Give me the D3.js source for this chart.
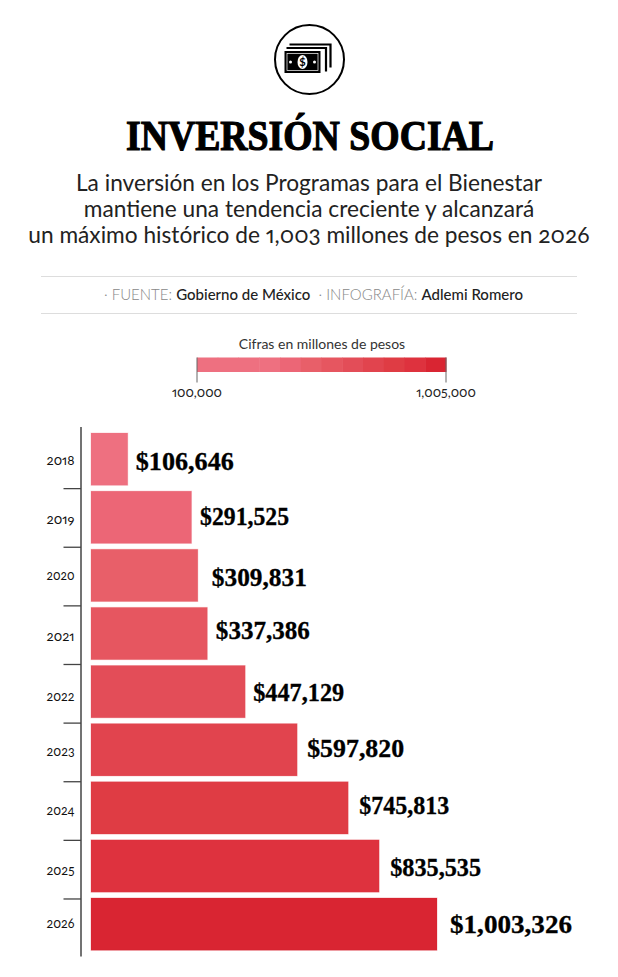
<!DOCTYPE html>
<html lang="es">
<head>
<meta charset="utf-8">
<script src="https://cdn.jsdelivr.net/npm/d3@7"></script>
<style>
  html, body { margin: 0; padding: 0; background: #fff; }
  svg { display: block; }
  .sans { font-family: "Lato", "Open Sans", sans-serif; font-feature-settings: "onum" 1, "pnum" 1; }
  .display { font-family: "Liberation Serif", serif; font-weight: 700; }
</style>
</head>
<body>
<script>
// Presupuesto anual de los Programas para el Bienestar (millones de pesos)
const years = [2018, 2019, 2020, 2021, 2022, 2023, 2024, 2025, 2026];
const amounts = [106646, 291525, 309831, 337386, 447129, 597820, 745813, 835535, 1003326];
const barColors = ["#ee7080", "#ec6676", "#e85f69", "#e65660", "#e34d58", "#e1444e", "#df3c44", "#de323e", "#d92532"];
const legendColors = ["#ee7080", "#ee7080", "#ee7080", "#ee7080", "#ec6676", "#e85f69", "#e65660", "#e34d58", "#e1444e", "#df3c44", "#de323e", "#d92532"];
const legendLabels = ["100,000", "1,005,000"];

// Ajustes finos de cada etiqueta respecto a su barra o franja
const valueGap = [8, 8.5, 14, 8.5, 8, 10, 11, 11, 13];
const valueDy = [2.8, -0.3, 2.6, -2.6, 1.3, -0.8, -1.9, 1.7, 0.5];
const valueWidth = [98, 89, 95, 94, 91, 97, 90, 91, 122];
const yearDy = [0.7, 1.1, -1.5, 0.9, 2.3, -1.3, -0.9, 0.5, -5.1];

const W = 618, H = 977;
const svg = d3.select("body").append("svg").attr("width", W).attr("height", H);

// Icono de billetes
const icon = svg.append("g").attr("transform", "translate(309.5,59.5)");
icon.append("circle").attr("r", 34.5)
  .attr("fill", "none").attr("stroke", "#000").attr("stroke-width", 2);
icon.append("path").attr("fill", "none").attr("stroke", "#000").attr("stroke-width", 2.2)
  .attr("d", "M-20,-15H21V8 M-23,-11.5H16.5V12");
icon.append("rect").attr("x", -25).attr("y", -8.5).attr("width", 36).attr("height", 22).attr("fill", "#000");
icon.append("rect").attr("x", -22.5).attr("y", -6).attr("width", 31).attr("height", 17)
  .attr("fill", "none").attr("stroke", "#fff").attr("stroke-width", 0.7);
icon.append("ellipse").attr("cx", -7).attr("cy", 2.5).attr("rx", 5).attr("ry", 7).attr("fill", "#fff");
icon.append("text").attr("x", -7).attr("y", 6.5).attr("text-anchor", "middle")
  .attr("font-family", "Lato").attr("font-size", 11).attr("font-weight", 700).text("$");
[-19, 5].forEach(x => icon.append("circle").attr("cx", x).attr("cy", 2.5).attr("r", 1.5).attr("fill", "#fff"));

// Titular
svg.append("text").attr("class", "display")
  .attr("x", 310).attr("y", 149.5).attr("text-anchor", "middle")
  .attr("font-size", 42).attr("stroke", "#000").attr("stroke-width", 1.2)
  .attr("textLength", 368).attr("lengthAdjust", "spacingAndGlyphs")
  .text("INVERSIÓN SOCIAL");

// Entradilla
const deck = [
  "La inversión en los Programas para el Bienestar",
  "mantiene una tendencia creciente y alcanzará",
  "un máximo histórico de 1,003 millones de pesos en 2026"
];
svg.selectAll(".deck").data(deck).join("text")
  .attr("class", "sans deck").attr("x", 309).attr("y", (d, i) => 190.5 + i * 26.3)
  .attr("text-anchor", "middle").attr("font-size", 22.7).attr("font-weight", 400)
  .attr("fill", "#222").text(d => d);

// Crédito entre filetes
svg.selectAll(".rule").data([276.5, 313.5]).join("line").attr("class", "rule")
  .attr("x1", 41).attr("x2", 577).attr("y1", d => d).attr("y2", d => d)
  .attr("stroke", "#ddd");
const credit = svg.append("text").attr("class", "sans").attr("x", 313.5).attr("y", 300)
  .attr("text-anchor", "middle").attr("font-size", 15);
[["· FUENTE: ", "#888", 300], ["Gobierno de México", "#222", 500], ["  · INFOGRAFÍA: ", "#888", 300], ["Adlemi Romero", "#222", 500]]
  .forEach(([t, c, w]) => credit.append("tspan").attr("fill", c).attr("font-weight", w).attr("xml:space", "preserve").text(t));

// Leyenda de color
const legendScale = d3.scaleBand().domain(d3.range(legendColors.length)).range([197, 446]).padding(0);
svg.append("text").attr("class", "sans").attr("x", 322).attr("y", 349).attr("text-anchor", "middle")
  .attr("font-size", 14).attr("font-weight", 400).attr("fill", "#333").text("Cifras en millones de pesos");
svg.selectAll(".cell").data(legendColors).join("rect").attr("class", "cell")
  .attr("x", (d, i) => legendScale(i)).attr("y", 357.5)
  .attr("width", legendScale.bandwidth() + 0.5).attr("height", 14.5).attr("fill", d => d);
const legendEnds = d3.scaleOrdinal().domain(legendLabels).range([197, 446]);
svg.selectAll(".lt").data(legendLabels).join("line").attr("class", "lt")
  .attr("x1", d => legendEnds(d)).attr("x2", d => legendEnds(d))
  .attr("y1", 357.5).attr("y2", 382.5).attr("stroke", "#666");
svg.selectAll(".ll").data(legendLabels).join("text").attr("class", "sans ll")
  .attr("x", d => legendEnds(d)).attr("y", 397).attr("text-anchor", "middle")
  .attr("font-size", 13.2).attr("fill", "#222").text(d => d);

// Barras
const x = d3.scaleLinear().domain([0, 1003326]).range([91, 437]);
const y = d3.scaleBand().domain(years).range([433, 950.3]).paddingInner(0.1).paddingOuter(0);
const rows = d3.zip(years, amounts, barColors, valueGap, valueDy, yearDy, valueWidth);

svg.selectAll(".bar").data(rows).join("rect").attr("class", "bar")
  .attr("x", x(0)).attr("y", d => y(d[0]))
  .attr("width", d => x(d[1]) - x(0)).attr("height", y.bandwidth())
  .attr("fill", d => d[2])
  .attr("stroke", d => d[2]).attr("stroke-opacity", 0.25).attr("stroke-width", 1);

// Eje vertical con marcas entre franjas
const yAxisBands = d3.scaleBand().domain(years).range([430, 957.6]);
const axisG = svg.append("g").attr("fill", "none").attr("stroke", "#444").attr("stroke-width", 1.3);
axisG.append("line").attr("x1", 81).attr("x2", 81).attr("y1", 427).attr("y2", 956.5).attr("stroke-width", 1.5);
axisG.selectAll("line.tick").data(years.slice(1)).join("line").attr("class", "tick")
  .attr("x1", 63.5).attr("x2", 81)
  .attr("y1", d => yAxisBands(d)).attr("y2", d => yAxisBands(d));

svg.selectAll(".year").data(rows).join("text").attr("class", "sans year")
  .attr("x", 60.5).attr("y", d => yAxisBands(d[0]) + yAxisBands.bandwidth() / 2 + 4.8 + d[5])
  .attr("text-anchor", "middle").attr("font-size", 14).attr("fill", "#111")
  .attr("textLength", 28).attr("lengthAdjust", "spacingAndGlyphs").text(d => d[0]);

svg.selectAll(".value").data(rows).join("text").attr("class", "display value")
  .attr("x", d => x(d[1]) + d[3]).attr("y", d => y(d[0]) + y.bandwidth() / 2 + 8 + d[4])
  .attr("font-size", d => d[1] > 1000000 ? 26 : 25).attr("fill", "#000")
  .attr("stroke", "#000").attr("stroke-width", 0.3)
  .attr("textLength", d => d[6]).attr("lengthAdjust", "spacingAndGlyphs")
  .text(d => "$" + d3.format(",")(d[1]));
</script>
</body>
</html>
